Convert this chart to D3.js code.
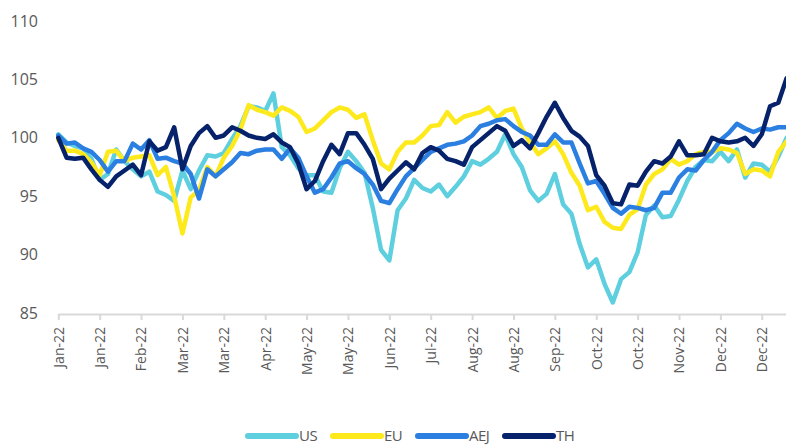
<!DOCTYPE html>
<html>
<head>
<meta charset="utf-8">
<script src="https://cdn.jsdelivr.net/npm/d3@7"></script>
<style>
  html, body { margin: 0; padding: 0; background: #ffffff; }
  svg { display: block; }
</style>
</head>
<body>
<svg id="chart" width="786" height="448"></svg>
<script>
// ---- data (sampled every 3 business days from early Jan 2022) ----
const tickLabels = ["Jan-22","Jan-22","Feb-22","Mar-22","Mar-22","Apr-22","May-22","May-22","Jun-22",
  "Jul-22","Aug-22","Aug-22","Sep-22","Oct-22","Oct-22","Nov-22","Dec-22","Dec-22"];
const seriesNames = ["US", "EU", "AEJ", "TH"];
const seriesColors = ["#5dcfdf", "#fde91c", "#2b7fe0", "#06226a"];

const US = [100.3,99.6,99.3,99.1,98.2,96.4,96.9,99.0,98.0,97.3,96.7,97.1,95.4,95.1,94.6,97.2,95.6,97.2,98.5,98.4,
  98.7,99.9,101.0,102.7,102.6,102.3,103.8,99.2,98.5,97.4,96.8,96.8,95.4,95.3,97.4,98.8,98.0,97.0,94.0,90.4,
  89.5,93.8,94.8,96.4,95.7,95.4,96.0,95.0,95.8,96.7,98.0,97.7,98.2,98.8,100.3,98.6,97.5,95.5,94.6,95.2,
  96.9,94.3,93.5,90.9,88.9,89.6,87.5,85.9,87.9,88.5,90.2,93.4,94.2,93.2,93.3,94.7,96.3,97.5,98.1,98.0,
  98.8,98.0,99.0,96.6,97.8,97.7,97.1,98.4,100.0];
const EU = [99.8,98.9,98.9,98.6,97.9,96.8,98.8,98.9,98.0,98.3,98.4,98.5,96.8,97.5,95.0,91.8,94.9,95.5,97.5,96.7,
  98.3,99.3,100.7,102.8,102.4,102.2,101.9,102.6,102.3,101.8,100.5,100.8,101.5,102.2,102.6,102.4,101.7,102.0,99.8,97.8,
  97.3,98.8,99.6,99.6,100.2,101.0,101.1,102.2,101.3,101.8,102.0,102.2,102.6,101.7,102.3,102.5,100.8,99.6,98.6,99.1,
  99.7,98.6,97.0,95.9,93.8,94.1,92.8,92.3,92.2,93.4,93.9,96.0,96.9,97.3,98.2,97.7,98.0,98.6,98.8,98.8,
  99.1,99.0,98.7,96.9,97.3,97.2,96.7,98.8,99.7];
const AEJ = [100.2,99.5,99.6,99.1,98.8,98.1,97.1,98.0,98.0,99.5,99.0,99.8,98.2,98.3,98.0,97.8,96.9,94.8,97.3,96.7,
  97.3,97.9,98.7,98.6,98.9,99.0,99.0,98.2,99.1,98.3,96.7,95.3,95.6,96.6,97.8,98.0,97.4,96.9,96.0,94.6,
  94.4,95.6,96.7,97.4,98.1,98.8,99.1,99.4,99.5,99.7,100.2,101.0,101.2,101.5,101.6,101.0,100.5,100.2,99.4,99.4,
  100.3,99.6,99.6,97.8,96.1,96.3,95.2,94.0,93.5,94.1,94.0,93.8,94.0,95.3,95.3,96.6,97.3,97.2,98.1,98.8,
  99.8,100.4,101.2,100.8,100.5,100.8,100.7,100.9,100.9];
const TH = [100.0,98.3,98.2,98.3,97.3,96.4,95.8,96.7,97.2,97.7,96.8,99.7,98.9,99.2,100.9,97.3,99.3,100.4,101.0,100.0,
  100.2,100.9,100.6,100.2,100.0,99.9,100.3,99.6,99.2,97.8,95.6,96.3,98.0,99.4,98.6,100.4,100.4,99.4,98.2,95.6,
  96.5,97.2,97.9,97.3,98.7,99.2,98.9,98.2,98.0,97.7,99.2,99.8,100.4,101.0,100.6,99.3,99.8,99.1,100.4,101.8,
  103.0,101.7,100.6,100.1,99.3,96.8,95.9,94.4,94.3,96.0,95.9,97.1,98.0,97.8,98.4,99.7,98.5,98.5,98.6,100.0,
  99.7,99.6,99.7,100.0,99.3,100.3,102.7,103.0,105.1];

const yTicks = [85, 90, 95, 100, 105, 110];
const stepDays = 3;      // business days between samples
const tickEvery = 15;    // business days between axis labels

// ---- layout ----
const svg = d3.select("#chart");
const plotLeft = 58.3, plotRight = 786.6, plotTop = 21, plotBottom = 313;
const nPts = US.length;

const x = d3.scaleLinear().domain([0, (nPts - 1) * stepDays]).range([plotLeft, plotRight]);
const y = d3.scaleLinear().domain([85, 110]).range([plotBottom, plotTop]);

const textColor = "#595959";
const fontFam = "'Open Sans', 'DejaVu Sans', sans-serif";

// y axis (labels only)
const yAxis = d3.axisLeft(y).tickValues(yTicks).tickSize(0).tickPadding(0);
const gy = svg.append("g").attr("transform", "translate(38,0)").call(yAxis);
gy.select(".domain").remove();
gy.selectAll("text").attr("fill", textColor).style("font-family", fontFam).style("font-size", "16px");

// x axis
const tickVals = tickLabels.map((d, i) => i * tickEvery);
const xAxis = d3.axisBottom(x).tickValues(tickVals).tickSize(6).tickPadding(8)
  .tickFormat((d, i) => tickLabels[i]).tickSizeOuter(0);
const gx = svg.append("g").attr("transform", `translate(0,${plotBottom + 1})`).call(xAxis);
gx.select(".domain").attr("stroke", "#d9d9d9").attr("stroke-width", 2)
  .attr("d", `M${plotLeft},0.5H786`);
gx.selectAll(".tick line").attr("stroke", "#d9d9d9").attr("stroke-width", 2);
gx.selectAll(".tick text")
  .attr("fill", textColor)
  .style("font-family", fontFam).style("font-size", "14px")
  .attr("text-anchor", "end")
  .attr("transform", "rotate(-90)")
  .attr("x", -13).attr("y", 0).attr("dy", "0.35em");

// lines
const allSeries = [US, EU, AEJ, TH];
const line = d3.line().x((d, i) => x(i * stepDays)).y(d => y(d)).curve(d3.curveLinear);
const gl = svg.append("g");
allSeries.forEach((vals, k) => {
  gl.append("path").datum(vals)
    .attr("d", line)
    .attr("fill", "none")
    .attr("stroke", seriesColors[k])
    .attr("stroke-width", 4.5)
    .attr("stroke-linejoin", "round")
    .attr("stroke-linecap", "round");
});

// legend
const legendX = [248, 333, 418, 505];
const lg = svg.append("g").attr("transform", "translate(0,436)");
seriesNames.forEach((name, k) => {
  lg.append("line").attr("x1", legendX[k]).attr("x2", legendX[k] + 48)
    .attr("y1", 0).attr("y2", 0)
    .attr("stroke", seriesColors[k]).attr("stroke-width", 6).attr("stroke-linecap", "round");
  lg.append("text").attr("x", legendX[k] + 51).attr("y", 0).attr("dy", "0.35em")
    .attr("fill", textColor).style("font-family", fontFam).style("font-size", "15px")
    .style("letter-spacing", "-0.5px")
    .text(name);
});
</script>
</body>
</html>
